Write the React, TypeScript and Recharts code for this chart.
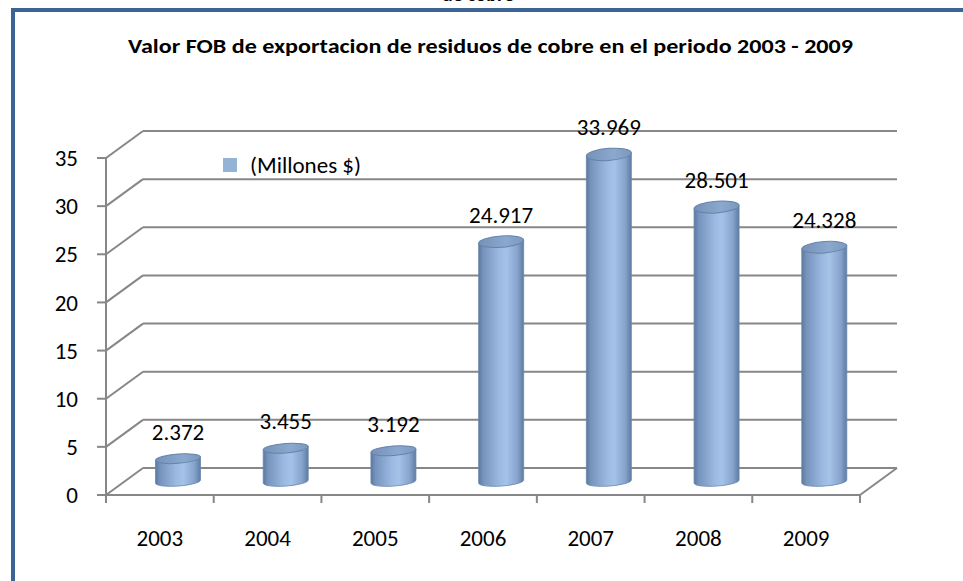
import React from "react";
import { BarChart, Bar, XAxis, YAxis, CartesianGrid, LabelList, Legend } from "recharts";

// ---- data ----
const years = ["2003", "2004", "2005", "2006", "2007", "2008", "2009"];
const fobValues = [2.372, 3.455, 3.192, 24.917, 33.969, 28.501, 24.328];
const yTicks = [0, 5, 10, 15, 20, 25, 30, 35];
const seriesName = "(Millones $)";
const chartTitle = "Valor FOB de exportacion de residuos de cobre en el periodo 2003 - 2009";
const clippedHeading = "de cobre";

const data = years.map((year, i) => ({ year, value: fobValues[i] }));

// ---- layout / style ----
const W = 963;
const H = 581;
const PLOT_LEFT = 106;
const PLOT_RIGHT = 860;
const PLOT_TOP = 158;
const PLOT_BOTTOM = 495;
const DX = 37; // 3D depth offset
const DY = 27;
const GRID = "#878787";
const FONT = "Carlito, Lato, 'Open Sans', sans-serif";
const BAND = (PLOT_RIGHT - PLOT_LEFT) / years.length;

const GridLine = (p: any) => {
  const { x1, y1, x2 } = p;
  const isFloor = Math.abs(y1 - PLOT_BOTTOM) < 0.6;
  return (
    <g key={`gl-${y1}`} stroke={GRID} strokeWidth={2} fill="none">
      <line x1={x1} y1={y1} x2={x1 + DX} y2={y1 - DY} />
      <line x1={x1 + DX} y1={y1 - DY} x2={x2 + DX} y2={y1 - DY} />
      {isFloor && <line x1={x2} y1={y1} x2={x2 + DX} y2={y1 - DY} />}
    </g>
  );
};

const Cylinder = (p: any) => {
  const { x, y, width, height, index } = p;
  if (width == null || height == null) return null;
  const cx = x + width / 2 + DX / 2;
  const rx = width / 2;
  const top = y - DY / 2;
  const bot = y + height - DY / 2;
  const ryTop = 4.6 + height * 0.0045;
  const ryBot = 4.6;
  const l = cx - rx;
  const r = cx + rx;
  const bodyId = `cylBody${index}`;
  const capId = `cylCap${index}`;
  const body = `M${l},${top} L${l},${bot} A${rx},${ryBot} 0 0 0 ${r},${bot} L${r},${top} Z`;
  return (
    <g transform={`translate(${cx},0) skewY(-4) translate(${-cx},0)`}>
      <defs>
        <linearGradient id={bodyId} x1="0" y1="0" x2="1" y2="0">
          <stop offset="0" stopColor="#5b789f" />
          <stop offset="0.1" stopColor="#7593bc" />
          <stop offset="0.45" stopColor="#9ab9e1" />
          <stop offset="0.62" stopColor="#a5c3e9" />
          <stop offset="0.86" stopColor="#86a4cc" />
          <stop offset="1" stopColor="#5e7ca3" />
        </linearGradient>
        <linearGradient id={capId} x1="0" y1="0" x2="1" y2="0">
          <stop offset="0" stopColor="#7591b8" />
          <stop offset="0.6" stopColor="#8ba8cf" />
          <stop offset="1" stopColor="#7b98bf" />
        </linearGradient>
      </defs>
      <path d={body} fill={`url(#${bodyId})`} stroke="#6a86ad" strokeWidth={0.8} />
      <ellipse cx={cx} cy={top} rx={rx} ry={ryTop} fill={`url(#${capId})`} stroke="#6682a9" strokeWidth={1} />
    </g>
  );
};

const ValueLabel = (p: any) => {
  const { x, y, width, value } = p;
  if (value == null) return null;
  const cx = x + width / 2 + DX / 2;
  const top = y - DY / 2;
  const cy = top - 27;
  return (
    <text x={cx} y={cy + 8} textAnchor="middle" fontFamily={FONT} fontSize={23} fill="#000">
      {Number(value).toFixed(3)}
    </text>
  );
};

const XTick = (p: any) => {
  const { x, payload, index } = p;
  const left = x - BAND / 2;
  const right = x + BAND / 2;
  return (
    <g>
      <line x1={left} y1={PLOT_BOTTOM} x2={left} y2={PLOT_BOTTOM + 8} stroke={GRID} strokeWidth={2} />
      {index === years.length - 1 && (
        <line x1={right} y1={PLOT_BOTTOM} x2={right} y2={PLOT_BOTTOM + 8} stroke={GRID} strokeWidth={2} />
      )}
      <text x={x} y={PLOT_BOTTOM + 51} textAnchor="middle" fontFamily={FONT} fontSize={23} fill="#000">
        {payload.value}
      </text>
    </g>
  );
};

const LegendContent = () => (
  <div style={{ display: "flex", alignItems: "center", fontFamily: FONT, fontSize: 23, color: "#000", whiteSpace: "nowrap" }}>
    <span style={{ display: "inline-block", width: 14, height: 14, background: "#95b3d7", marginRight: 13 }} />
    <span>{seriesName}</span>
  </div>
);

export default function App() {
  return (
    <div style={{ position: "fixed", left: 0, top: 0, width: W, height: H, background: "#fff", overflow: "hidden" }}>
      <div
        style={{
          position: "absolute",
          left: 11,
          top: 8,
          width: W - 11,
          height: H - 8,
          borderTop: "4.5px solid #3b6494",
          borderLeft: "4px solid #3b6494",
          boxSizing: "border-box",
        }}
      />
      <div style={{ position: "absolute", left: 0, top: 0 }}>
        <BarChart
          width={W}
          height={H}
          data={data}
          margin={{ top: PLOT_TOP, right: W - PLOT_RIGHT, bottom: 36, left: PLOT_LEFT - 60 }}
          barSize={45}
        >
          <text x={478} y={1} textAnchor="middle" fontFamily={FONT} fontWeight="bold" fontSize={20} fill="#000">
            {clippedHeading}
          </text>
          <text
            x={490.5}
            y={53}
            textAnchor="middle"
            fontFamily={FONT}
            fontWeight="bold"
            fontSize={19.5}
            fill="#000"
            textLength={725}
            lengthAdjust="spacingAndGlyphs"
          >
            {chartTitle}
          </text>
          <CartesianGrid horizontal={GridLine} vertical={false} />
          <XAxis
            dataKey="year"
            height={50}
            axisLine={{ stroke: GRID, strokeWidth: 2 }}
            tickLine={false}
            tick={XTick}
            interval={0}
          />
          <YAxis
            width={60}
            domain={[0, 35]}
            ticks={yTicks}
            interval={0}
            axisLine={{ stroke: GRID, strokeWidth: 2 }}
            tickLine={{ stroke: GRID, strokeWidth: 2 }}
            tickSize={9}
            tickMargin={19}
            tick={{ fontFamily: FONT, fontSize: 23, fill: "#000" }}
          />
          <Legend
            layout="horizontal"
            verticalAlign="middle"
            align="center"
            content={LegendContent}
            wrapperStyle={{ left: 223, top: 151, width: "auto" }}
          />
          <Bar dataKey="value" name={seriesName} shape={Cylinder} isAnimationActive={false} activeBar={false}>
            <LabelList dataKey="value" content={ValueLabel} />
          </Bar>
        </BarChart>
      </div>
    </div>
  );
}
